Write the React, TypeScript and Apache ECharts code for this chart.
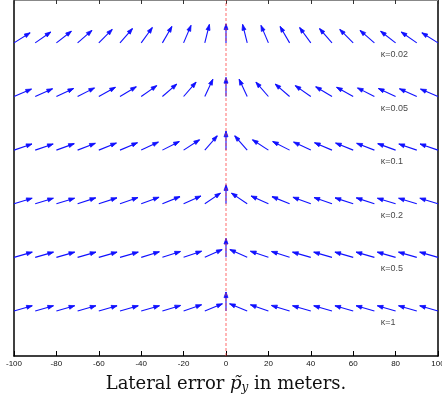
import React, { useEffect, useRef } from "react";
import * as echarts from "echarts";

// lateral positions of the arrow tails (meters)
const xPositions = [-100, -90, -80, -70, -60, -50, -40, -30, -20, -10, 0, 10, 20, 30, 40, 50, 60, 70, 80, 90, 100];
// row values on the (hidden) vertical axis, top row first
const rowY = [6, 5, 4, 3, 2, 1];
const kappaLabels = ["κ=0.02", "κ=0.05", "κ=0.1", "κ=0.2", "κ=0.5", "κ=1"];
// arrow directions in degrees (counter-clockwise from +x)
const angK002 = [32, 35, 38, 41, 45, 49, 54, 60, 67, 76, 90, 104, 113, 120, 126, 131, 135, 139, 142, 145, 148];
const angK005 = [23, 24, 25, 27, 29, 31, 35, 41, 49, 65, 90, 115, 131, 139, 145, 149, 151, 153, 155, 156, 157];
const angK01 = [19, 19, 20, 21, 22, 23, 25, 27, 33, 49, 90, 131, 147, 153, 155, 157, 158, 159, 160, 161, 161];
const angK02 = [17, 17, 17, 18, 18, 19, 20, 22, 24, 34, 90, 146, 156, 158, 160, 161, 162, 162, 163, 163, 163];
const angK05 = [16, 16, 16, 16, 16, 16, 17, 18, 19, 24, 90, 156, 161, 162, 164, 164, 164, 164, 164, 164, 164];
const angK1 = [16, 16, 16, 16, 16, 16, 16, 17, 19, 22, 90, 158, 161, 163, 164, 164, 164, 164, 164, 164, 164];
const rowAngles = [angK002, angK005, angK01, angK02, angK05, angK1];
const xTickLabels = ["-100", "-80", "-60", "-40", "-20", "0", "20", "40", "60", "80", "100"];
const labelX = 73;

export default function App() {
  const ref = useRef<HTMLDivElement>(null);
  useEffect(() => {
    document.body.style.margin = "0";
    document.body.style.overflow = "hidden";
    const chart = echarts.init(ref.current!, null, { renderer: "svg", width: 442, height: 402 });
    const arrowData: number[][] = [];
    rowAngles.forEach((angs, i) => {
      angs.forEach((a, j) => arrowData.push([xPositions[j], rowY[i], a]));
    });
    const yMin = 0.16;
    const yMax = 6.8;
    const blue = "#1010ff";
    const option: any = {
      animation: false,
      grid: { left: 14, right: 4, top: 0, bottom: 46, containLabel: false, outerBoundsMode: "none" },
      xAxis: [
        {
          type: "value",
          min: -100,
          max: 100,
          interval: 20,
          position: "bottom",
          axisLine: { show: true, onZero: false, lineStyle: { color: "#000", width: 1.5 } },
          axisTick: { show: true, inside: true, length: 5, lineStyle: { color: "#000" } },
          axisLabel: {
            show: true,
            fontSize: 8,
            margin: 3,
            color: "#111",
            fontFamily: "Liberation Sans",
            formatter: (v: number) => xTickLabels[Math.round((v + 100) / 20)] ?? String(v),
          },
          splitLine: { show: false },
          name: "{n|Lateral error }{i|p̃}{s|y}{n| in meters.}",
          nameLocation: "middle",
          nameGap: 16,
          nameTextStyle: {
            rich: {
              n: { fontFamily: "DejaVu Serif", fontSize: 18, color: "#111" },
              i: { fontFamily: "DejaVu Serif", fontStyle: "italic", fontSize: 18, color: "#111" },
              s: { fontFamily: "DejaVu Serif", fontStyle: "italic", fontSize: 12, color: "#111", padding: [9, 0, 0, 0] },
            },
          },
        },
        {
          type: "value",
          min: -100,
          max: 100,
          interval: 20,
          position: "top",
          axisLine: { show: true, onZero: false, lineStyle: { color: "#888", width: 1 } },
          axisTick: { show: true, inside: true, length: 4, lineStyle: { color: "#333" } },
          axisLabel: { show: false },
          splitLine: { show: false },
        },
      ],
      yAxis: [
        {
          type: "value",
          min: yMin,
          max: yMax,
          position: "left",
          axisLine: { show: true, onZero: false, lineStyle: { color: "#000", width: 1.5 } },
          axisTick: { show: false },
          axisLabel: { show: false },
          splitLine: { show: false },
        },
        {
          type: "value",
          min: yMin,
          max: yMax,
          position: "right",
          axisLine: { show: true, onZero: false, lineStyle: { color: "#000", width: 1.5 } },
          axisTick: { show: false },
          axisLabel: { show: false },
          splitLine: { show: false },
        },
      ],
      series: [
        {
          type: "custom",
          xAxisIndex: 0,
          yAxisIndex: 0,
          data: arrowData,
          z: 2,
          renderItem: (params: any, api: any) => {
            const p = api.coord([api.value(0), api.value(1)]);
            const rad = (api.value(2) * Math.PI) / 180;
            const L = 19;
            const hx = p[0] + L * Math.cos(rad);
            const hy = p[1] - L * Math.sin(rad);
            const hl = 6;
            const spread = 0.34;
            const b1 = [hx - hl * Math.cos(rad - spread), hy + hl * Math.sin(rad - spread)];
            const b2 = [hx - hl * Math.cos(rad + spread), hy + hl * Math.sin(rad + spread)];
            return {
              type: "group",
              children: [
                { type: "line", shape: { x1: p[0], y1: p[1], x2: hx, y2: hy }, style: { stroke: blue, lineWidth: 1.1 } },
                { type: "polygon", shape: { points: [b1, [hx, hy], b2] }, style: { stroke: blue, fill: blue, lineWidth: 0.8 } },
              ],
            };
          },
        },
        {
          type: "line",
          xAxisIndex: 0,
          yAxisIndex: 0,
          data: [[0, yMin], [0, yMax]],
          symbol: "none",
          z: 3,
          lineStyle: { color: "#ff3b3b", width: 1, type: [3, 2], opacity: 0.75 },
        },
        {
          type: "scatter",
          xAxisIndex: 0,
          yAxisIndex: 0,
          symbolSize: 0,
          data: rowY.map((y, i) => ({ value: [labelX, y], name: kappaLabels[i] })),
          label: {
            show: true,
            position: "right",
            distance: 0,
            offset: [0, 11],
            formatter: (p: any) => p.name,
            fontSize: 9,
            fontFamily: "Liberation Sans",
            color: "#111",
          },
        },
      ],
    };
    chart.setOption(option);
    return () => chart.dispose();
  }, []);
  return <div ref={ref} style={{ position: "fixed", left: 0, top: 0, width: 442, height: 402 }} />;
}
